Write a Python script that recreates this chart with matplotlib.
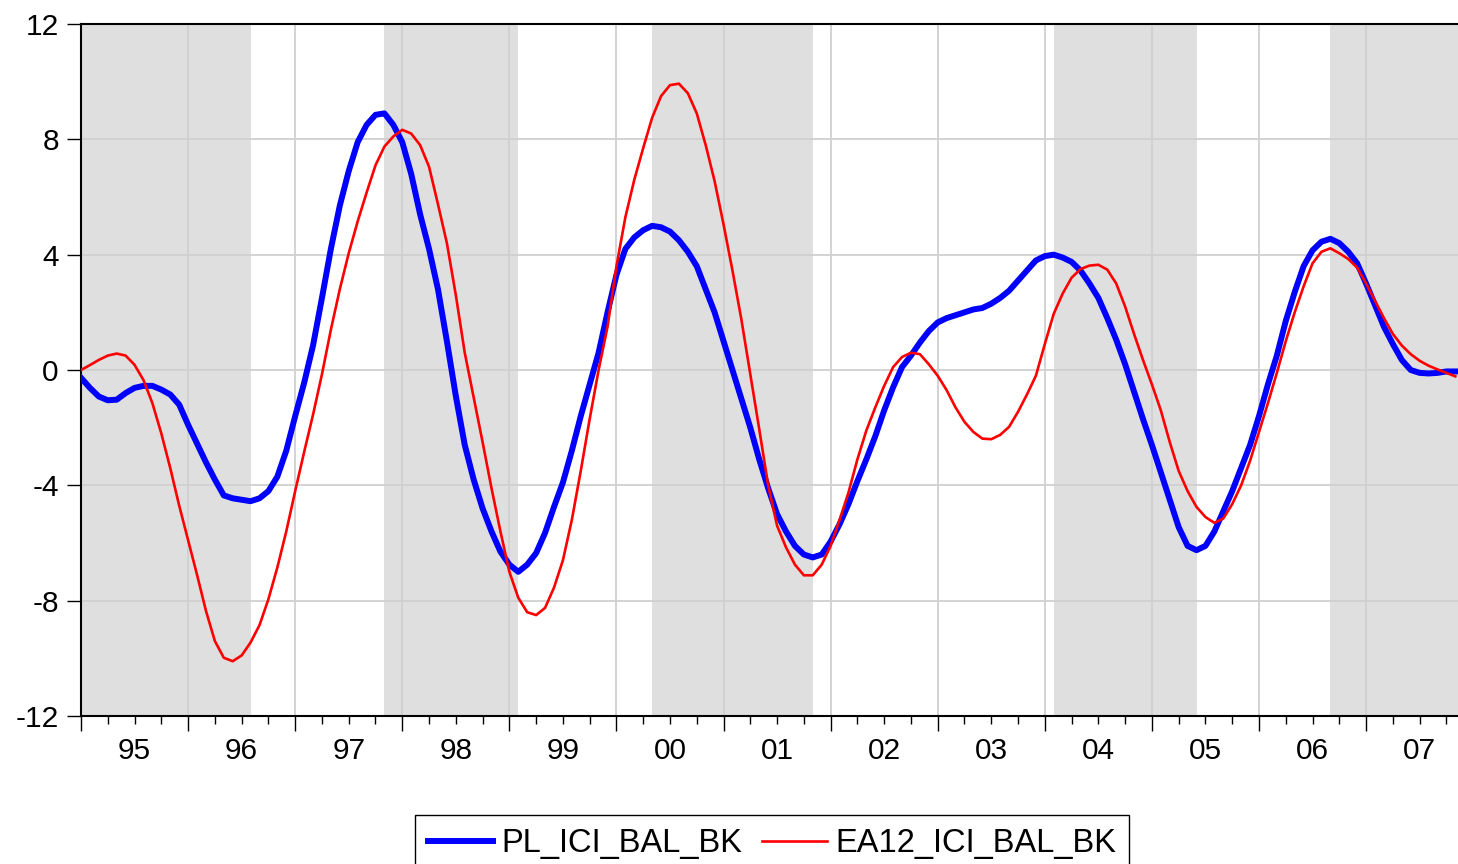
import numpy as np
import matplotlib.pyplot as plt
from matplotlib.lines import Line2D

# monthly series, first observation 1995M01
start_year = 1995

pl_ici_bal_bk = [
    -0.27, -0.62, -0.92, -1.05, -1.03, -0.8, -0.62, -0.55, -0.55, -0.68,
    -0.85, -1.2, -1.9, -2.55, -3.2, -3.8, -4.35, -4.45, -4.5, -4.55,
    -4.45, -4.2, -3.7, -2.8, -1.6, -0.45, 0.85, 2.5, 4.2, 5.7,
    6.9, 7.9, 8.5, 8.85, 8.9, 8.5, 7.9, 6.8, 5.4, 4.2,
    2.8, 1.0, -0.9, -2.6, -3.8, -4.8, -5.6, -6.3, -6.75, -7.0,
    -6.75, -6.35, -5.65, -4.75, -3.9, -2.8, -1.6, -0.5, 0.6, 2.0,
    3.3, 4.2, 4.6, 4.85, 5.0, 4.95, 4.8, 4.5, 4.1, 3.6,
    2.8, 2.0, 1.0, 0.0, -1.0, -2.0, -3.1, -4.1, -5.0, -5.6,
    -6.1, -6.4, -6.5, -6.4, -5.95, -5.35, -4.65, -3.85, -3.1, -2.3,
    -1.4, -0.6, 0.1, 0.5, 0.95, 1.35, 1.65, 1.8, 1.9, 2.0,
    2.1, 2.15, 2.3, 2.5, 2.75, 3.1, 3.45, 3.8, 3.95, 4.0,
    3.9, 3.75, 3.45, 3.0, 2.5, 1.8, 1.05, 0.2, -0.75, -1.7,
    -2.6, -3.55, -4.5, -5.45, -6.1, -6.25, -6.1, -5.6, -4.9, -4.2,
    -3.4, -2.6, -1.6, -0.5, 0.5, 1.7, 2.7, 3.6, 4.15, 4.45,
    4.55, 4.4, 4.1, 3.7, 3.0, 2.25, 1.5, 0.9, 0.35, 0.0,
    -0.1, -0.12, -0.1, -0.05, -0.05,
]

ea12_ici_bal_bk = [
    0.0, 0.17, 0.35, 0.5, 0.57, 0.5, 0.18, -0.35, -1.15, -2.2,
    -3.4, -4.7, -5.9, -7.1, -8.35, -9.4, -9.98, -10.1, -9.9, -9.45,
    -8.85, -7.95, -6.85, -5.6, -4.2, -2.85, -1.55, -0.15, 1.4, 2.8,
    4.05, 5.15, 6.15, 7.1, 7.75, 8.1, 8.33, 8.2, 7.8, 7.05,
    5.75, 4.4, 2.6, 0.6, -0.95, -2.5, -4.1, -5.6, -7.0, -7.9,
    -8.4, -8.5, -8.25, -7.55, -6.6, -5.2, -3.5, -1.7, 0.0, 1.5,
    3.6, 5.3, 6.6, 7.7, 8.75, 9.5, 9.88, 9.93, 9.6, 8.9,
    7.8, 6.55, 5.05, 3.45, 1.75, -0.15, -2.05, -4.0, -5.4, -6.15,
    -6.75, -7.12, -7.12, -6.75, -6.1, -5.2, -4.25, -3.1, -2.1, -1.3,
    -0.55, 0.1, 0.45, 0.6, 0.55, 0.2, -0.2, -0.7, -1.3, -1.8,
    -2.15, -2.38, -2.4, -2.25, -1.97, -1.45, -0.85, -0.2, 0.9, 1.95,
    2.65, 3.2, 3.5, 3.62, 3.65, 3.48, 3.0, 2.2, 1.25, 0.35,
    -0.5, -1.4, -2.5, -3.5, -4.2, -4.75, -5.1, -5.3, -5.15, -4.65,
    -4.0, -3.15, -2.15, -1.15, -0.1, 1.0, 2.0, 2.9, 3.7, 4.1,
    4.22, 4.05, 3.85, 3.55, 3.0, 2.4, 1.8, 1.25, 0.85, 0.55,
    0.32, 0.15, 0.02, -0.1, -0.22,
]

year_labels = ['95', '96', '97', '98', '99', '00', '01', '02', '03', '04', '05', '06', '07']
y_ticks = [-12, -8, -4, 0, 4, 8, 12]

# (year, month) start and end of the shaded phases
shaded_periods = [
    ((1995, 1), (1996, 8)),
    ((1997, 11), (1999, 2)),
    ((2000, 5), (2001, 11)),
    ((2004, 2), (2005, 6)),
    ((2006, 9), (2008, 1)),
]


def to_year(ym):
    return ym[0] + (ym[1] - 1) / 12.0


plt.rcParams['font.family'] = ['Liberation Sans', 'DejaVu Sans']

x = start_year + np.arange(len(pl_ici_bal_bk)) / 12.0

fig = plt.figure(figsize=(14.58, 8.64), dpi=100)
ax = fig.add_axes([81 / 1458, (864 - 716) / 864, (1458 - 81) / 1458, (716 - 24) / 864])

for start, end in shaded_periods:
    ax.axvspan(to_year(start), to_year(end), color='#DFDFDF', lw=0, zorder=0)

ax.plot(x, pl_ici_bal_bk, color='#0000FF', lw=4.3, zorder=3)
ax.plot(x, ea12_ici_bal_bk, color='#FF0000', lw=1.9, zorder=4)

n_years = len(year_labels)
ax.set_xlim(start_year, start_year + 154.3 / 12.0)
ax.set_ylim(-12, 12)

# year boundaries carry the grid, quarters carry small ticks, labels sit mid-year
ax.set_xticks([start_year + k for k in range(n_years)])
ax.set_xticklabels([''] * n_years)
quarters = [start_year + q / 4.0 for q in range(n_years * 4) if q % 4 != 0]
quarter_labels = [year_labels[q // 4] if q % 4 == 2 else '' for q in range(n_years * 4) if q % 4 != 0]
ax.set_xticks(quarters, minor=True)
ax.set_xticklabels(quarter_labels, minor=True)

ax.set_yticks(y_ticks)
ax.set_yticklabels([str(v) for v in y_ticks])

ax.tick_params(axis='x', which='major', length=11, width=1.0, direction='out')
ax.tick_params(axis='x', which='minor', length=6, width=1.0, direction='out',
               labelsize=21.5, pad=9)
ax.tick_params(axis='y', which='major', length=10, width=1.0, direction='out',
               labelsize=21.5, pad=6)

ax.set_axisbelow('line')
ax.grid(True, which='major', color='#D0D0D0', lw=1.3)

for side in ['left', 'bottom', 'top']:
    ax.spines[side].set_linewidth(1.5)
ax.spines['right'].set_visible(False)

handles = [Line2D([], [], color='#0000FF', lw=4.3),
           Line2D([], [], color='#FF0000', lw=1.9)]
leg = fig.legend(handles, ['PL_ICI_BAL_BK', 'EA12_ICI_BAL_BK'],
                 loc='upper center', bbox_to_anchor=(772 / 1458, 49 / 864),
                 ncol=2, fontsize=23.5, frameon=True, fancybox=False,
                 edgecolor='black', framealpha=1.0, handlelength=2.0,
                 handletextpad=0.25, columnspacing=0.6, borderpad=0.4,
                 borderaxespad=0.0)
leg.get_frame().set_linewidth(1.0)

fig.savefig('out.png', dpi=100)
